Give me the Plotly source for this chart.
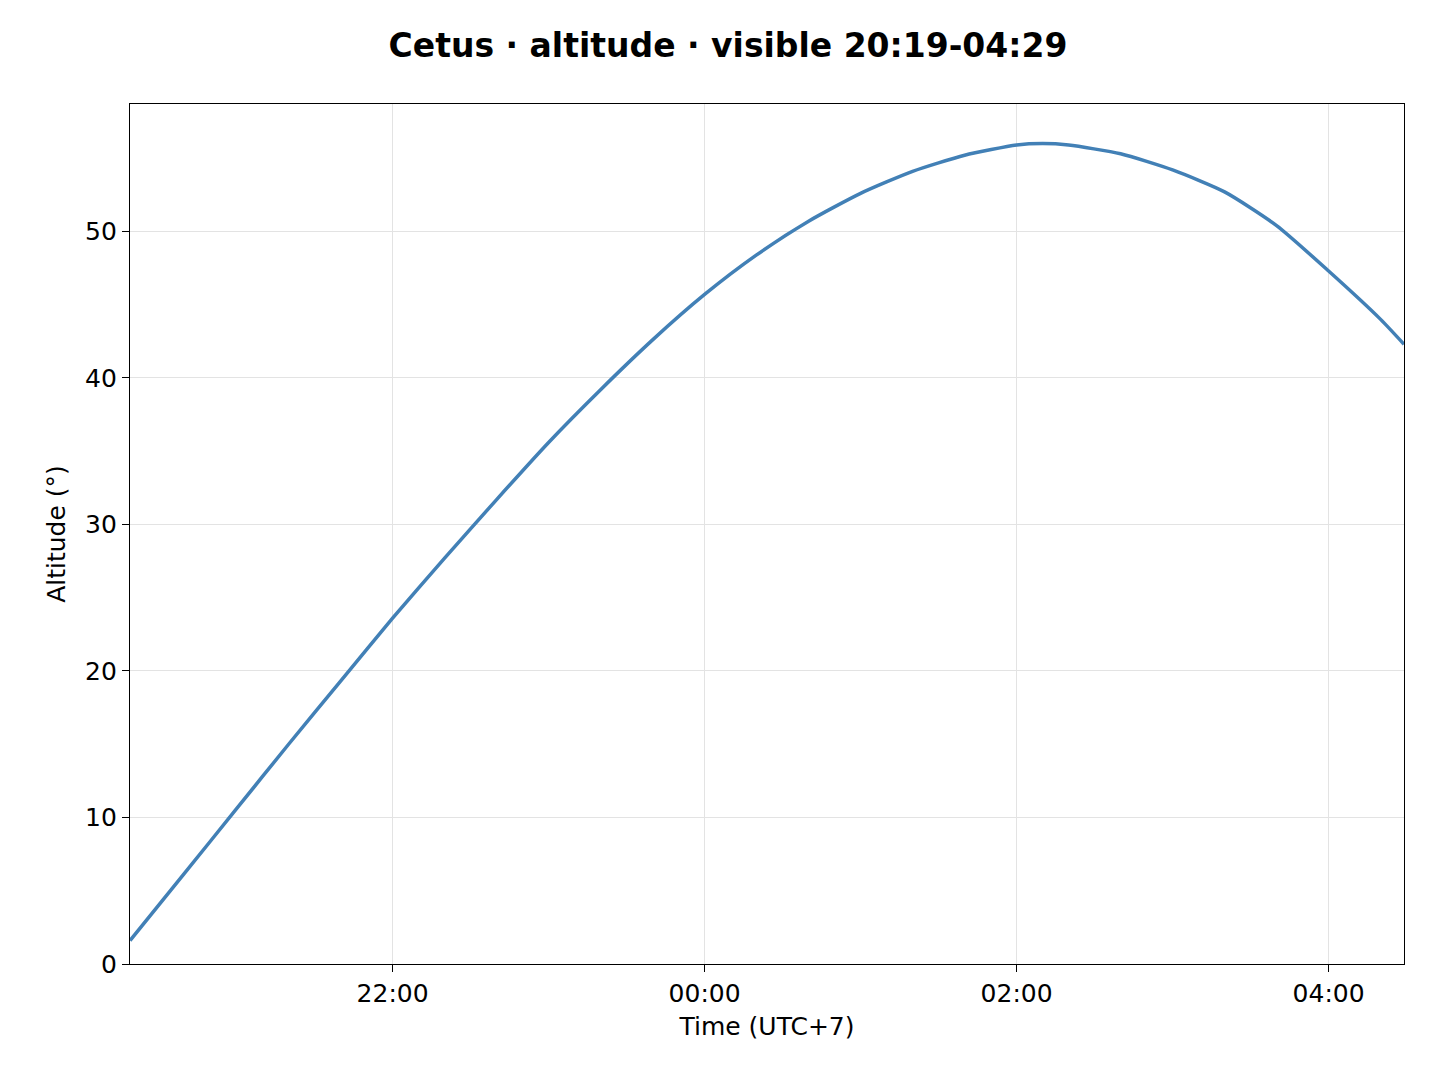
import plotly.graph_objects as go

times = ["2024-01-01 20:19", "2024-01-01 20:40", "2024-01-01 21:00", "2024-01-01 21:20",
         "2024-01-01 21:40", "2024-01-01 22:00", "2024-01-01 22:20", "2024-01-01 22:40",
         "2024-01-01 23:00", "2024-01-01 23:20", "2024-01-01 23:40", "2024-01-02 00:00",
         "2024-01-02 00:20", "2024-01-02 00:40", "2024-01-02 01:00", "2024-01-02 01:20",
         "2024-01-02 01:40", "2024-01-02 02:00", "2024-01-02 02:10", "2024-01-02 02:20",
         "2024-01-02 02:40", "2024-01-02 03:00", "2024-01-02 03:20", "2024-01-02 03:40",
         "2024-01-02 04:00", "2024-01-02 04:20", "2024-01-02 04:29"]
altitude = [1.6, 6.2, 10.6, 15.0, 19.3, 23.6, 27.7, 31.7, 35.6, 39.2, 42.6, 45.7,
            48.4, 50.7, 52.6, 54.1, 55.2, 55.9, 56.0, 55.9, 55.3, 54.2, 52.7, 50.4,
            47.3, 44.0, 42.3]
tick_vals = ["2024-01-01 22:00", "2024-01-02 00:00", "2024-01-02 02:00", "2024-01-02 04:00"]
tick_text = ["22:00", "00:00", "02:00", "04:00"]

fig = go.Figure()
fig.add_trace(go.Scatter(x=times, y=altitude, mode="lines",
                         line=dict(color="#4280b6", width=3.5, shape="spline", smoothing=0.6)))

axis = dict(showline=True, linecolor="black", linewidth=1.3, mirror=True,
            ticks="outside", ticklen=7, tickcolor="black",
            showgrid=True, gridcolor="#e3e3e3", gridwidth=1, zeroline=False,
            tickfont=dict(size=25, color="black"))

fig.update_layout(
    width=1440, height=1080,
    margin=dict(l=122, r=44, t=96, b=124),
    plot_bgcolor="white", paper_bgcolor="white",
    font=dict(family="DejaVu Sans", color="black"),
    showlegend=False,
    title=dict(text="<b>Cetus · altitude · visible 20:19-04:29</b>", x=0.5, xanchor="center",
               y=0.965, yanchor="middle", font=dict(size=33)),
)
fig.update_xaxes(**axis, range=["2024-01-01 20:19", "2024-01-02 04:29"],
                 tickvals=tick_vals, ticktext=tick_text,
                 title=dict(text="Time (UTC+7)", font=dict(size=25), standoff=10))
fig.update_yaxes(**axis, range=[0, 58.7], tickvals=[0, 10, 20, 30, 40, 50],
                 title=dict(text="Altitude (°)", font=dict(size=25), standoff=12))

fig.write_html("out.html")
